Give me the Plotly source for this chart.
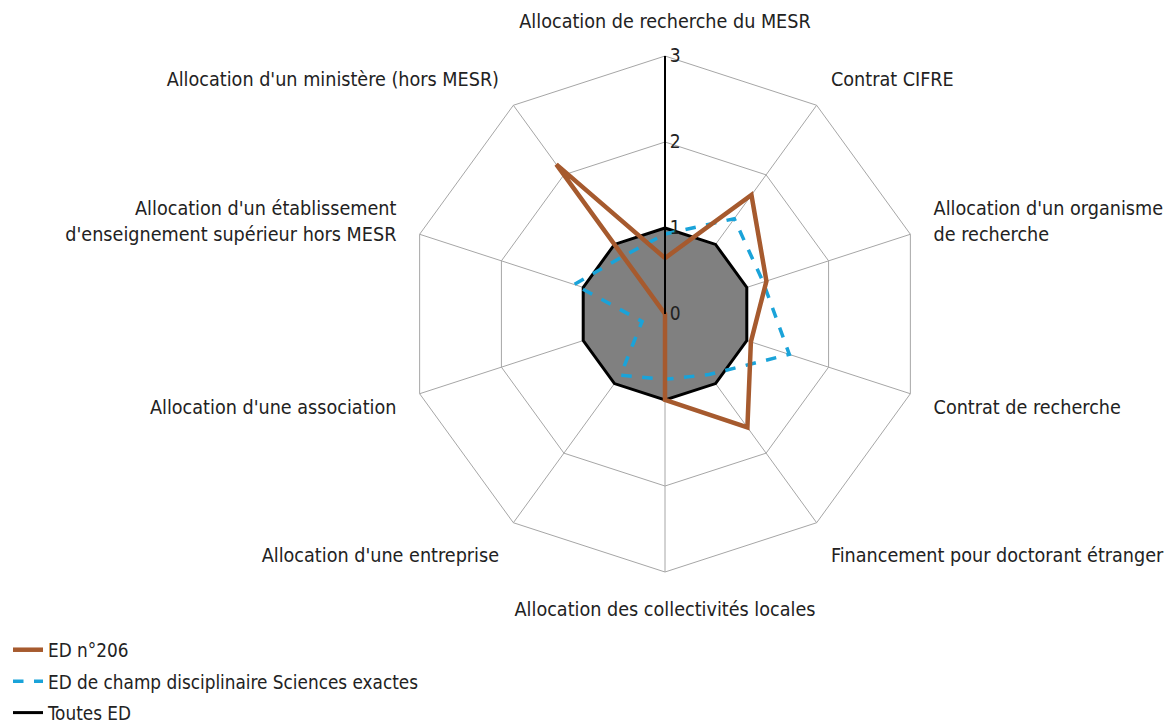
import plotly.graph_objects as go

categories = [
    "Allocation de recherche du MESR",
    "Contrat CIFRE",
    "Allocation d'un organisme<br>de recherche",
    "Contrat de recherche",
    "Financement pour doctorant étranger",
    "Allocation des collectivités locales",
    "Allocation d'une entreprise",
    "Allocation d'une association",
    "Allocation d'un établissement<br>d'enseignement supérieur hors MESR",
    "Allocation d'un ministère (hors MESR)",
]
ed206 = [0.65, 1.71, 1.24, 1.05, 1.63, 1.0, 0.0, 0.0, 0.0, 2.15]
sciences_exactes = [0.93, 1.37, 1.2, 1.52, 0.87, 0.76, 0.88, 0.28, 1.11, 0.83]
toutes_ed = [1, 1, 1, 1, 1, 1, 1, 1, 1, 1]
radial_ticks = [0, 1, 2, 3]

def closed(v):
    return list(v) + [v[0]]

theta = closed(categories)

fig = go.Figure()
# gray area of "Toutes ED" (legend entry is given by the line trace below)
fig.add_trace(go.Scatterpolar(
    r=closed(toutes_ed), theta=theta, name="Toutes ED", mode="lines",
    line=dict(color="rgba(0,0,0,0)", width=0), fill="toself", fillcolor="#808080",
    showlegend=False, hoverinfo="skip",
))
fig.add_trace(go.Scatterpolar(
    r=closed(toutes_ed), theta=theta, name="Toutes ED", mode="lines",
    line=dict(color="black", width=3), legendrank=3, legendgroup="c",
))
fig.add_trace(go.Scatterpolar(
    r=closed(sciences_exactes), theta=theta,
    name="ED de champ disciplinaire Sciences exactes", mode="lines",
    line=dict(color="#1aa3d9", width=3.5, dash="dash"), legendrank=2, legendgroup="b",
))
fig.add_trace(go.Scatterpolar(
    r=closed(ed206), theta=theta, name="ED n°206", mode="lines",
    line=dict(color="#a65a2e", width=4.5), legendrank=1, legendgroup="a",
))

cx, cy, R = 657, 306, 258
W, H = 1176, 724
FONT = "DejaVu Sans Condensed"
fig.update_layout(
    width=W, height=H,
    margin=dict(l=0, r=0, t=0, b=0),
    paper_bgcolor="white",
    font=dict(family=FONT, size=18, color="#222222"),
    polar=dict(
        domain=dict(x=[(cx - R) / W, (cx + R) / W],
                    y=[(H - cy - R) / H, (H - cy + R) / H]),
        bgcolor="white",
        gridshape="linear",
        radialaxis=dict(
            range=[0, 3], tickvals=radial_ticks, angle=90, tickangle=90,
            showline=True, linecolor="black", linewidth=2,
            gridcolor="#a6a6a6", gridwidth=1, ticks="",
            tickfont=dict(family=FONT, size=19, color="#222222"),
        ),
        angularaxis=dict(
            direction="clockwise", rotation=90,
            showline=True, linecolor="#a6a6a6", linewidth=1,
            gridcolor="#a6a6a6", gridwidth=1,
            ticks="outside", ticklen=20, tickcolor="rgba(0,0,0,0)",
            tickfont=dict(family=FONT, size=19.6, color="#222222"),
        ),
    ),
    legend=dict(
        x=0.0, y=0.0, xanchor="left", yanchor="bottom",
        font=dict(family=FONT, size=18.8, color="#222222"),
        tracegroupgap=4, itemwidth=30,
    ),
)

fig.write_html("out.html")
